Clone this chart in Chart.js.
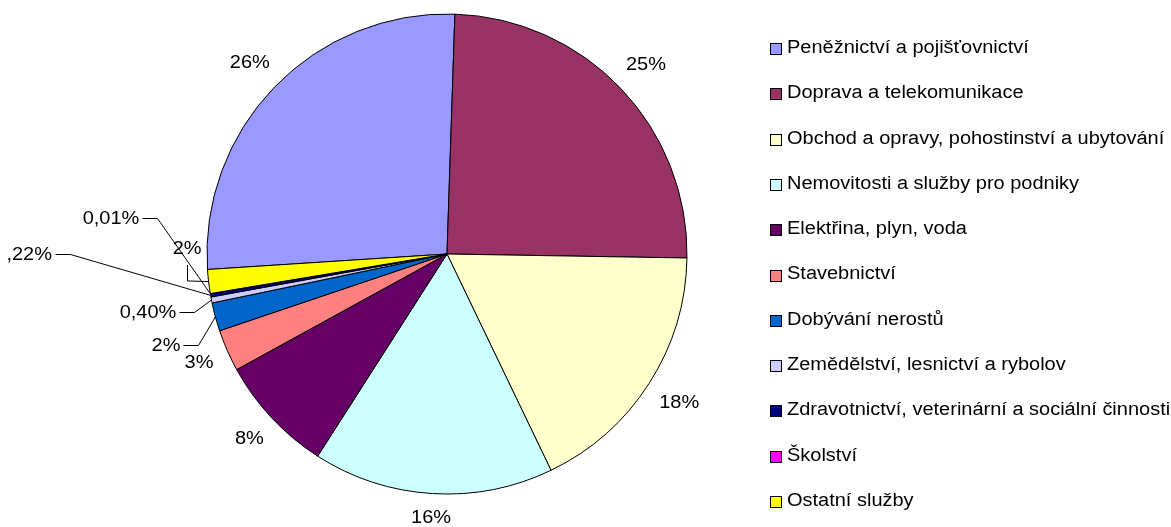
<!DOCTYPE html>
<html>
<head>
<meta charset="utf-8">
<script src="https://cdn.jsdelivr.net/npm/chart.js@4.4.1/dist/chart.umd.min.js"></script>
<style>
  html, body { margin: 0; padding: 0; background: #fff; }
  #wrap { width: 1171px; height: 527px; position: relative; }
</style>
</head>
<body>
<div id="wrap"><canvas id="pieChart" width="1171" height="527"></canvas></div>
<script>
// Chart data
const sectors = [
    'Peněžnictví a pojišťovnictví',
    'Doprava a telekomunikace',
    'Obchod a opravy, pohostinství a ubytování',
    'Nemovitosti a služby pro podniky',
    'Elektřina, plyn, voda',
    'Stavebnictví',
    'Dobývání nerostů',
    'Zemědělství, lesnictví a rybolov',
    'Zdravotnictví, veterinární a sociální činnosti',
    'Školství',
    'Ostatní služby'
];
const shares = [26.4, 24.6, 17.5, 16.1, 7.9, 2.8, 1.9, 0.40, 0.22, 0.01, 1.6];
const shareLabels = ['26%', '25%', '18%', '16%', '8%', '3%', '2%', '0,40%', '0,22%', '0,01%', '2%'];
const sliceColors = ['#9999FF', '#993366', '#FFFFCC', '#CCFFFF', '#660066', '#FF8080',
    '#0066CC', '#CCCCFF', '#000080', '#FF00FF', '#FFFF00'];

// labels moved away from the small slices, offsets in units of the radius
const leaderLabels = {
    6: { dx: -1.171, dy: 0.383, style: 'side' },
    7: { dx: -1.246, dy: 0.246, style: 'side' },
    8: { dx: -1.764, dy: 0.004, style: 'side' },
    9: { dx: -1.40, dy: -0.146, style: 'side' },
    10: { dx: -1.083, dy: -0.021, style: 'below' }
};

const FONT = '18px "Liberation Sans", Arial, sans-serif';
const STRETCH = 1.11; // the original text is drawn a bit wider than Arial

function wideText(ctx, text, x, y) {
    ctx.save();
    ctx.translate(x, y);
    ctx.scale(STRETCH, 1);
    ctx.fillText(text, 0, 0);
    ctx.restore();
}

const percentLabels = {
    id: 'percentLabels',
    afterDatasetsDraw(chart) {
        const ctx = chart.ctx;
        const meta = chart.getDatasetMeta(0);
        ctx.save();
        ctx.beginPath();
        ctx.rect(8, 0, chart.width - 8, chart.height);
        ctx.clip();
        ctx.font = FONT;
        ctx.fillStyle = '#000';
        ctx.strokeStyle = '#000';
        ctx.lineWidth = 1;
        ctx.textAlign = 'center';
        ctx.textBaseline = 'middle';
        meta.data.forEach((arc, i) => {
            const p = arc.getProps(['x', 'y', 'startAngle', 'endAngle', 'outerRadius'], true);
            const mid = (p.startAngle + p.endAngle) / 2;
            const cs = Math.cos(mid), sn = Math.sin(mid);
            const text = shareLabels[i];
            const w = ctx.measureText(text).width * STRETCH;
            const h = 18;
            const edgeX = p.x + cs * p.outerRadius;
            const edgeY = p.y + sn * p.outerRadius;
            const lead = leaderLabels[i];
            if (!lead) {
                const d = p.outerRadius + 14 + Math.abs(cs) * w / 2 + Math.abs(sn) * h / 2;
                wideText(ctx, text, p.x + cs * d, p.y + sn * d);
                return;
            }
            const tx = p.x + lead.dx * p.outerRadius;
            const ty = p.y + lead.dy * p.outerRadius;
            wideText(ctx, text, tx, ty);
            ctx.beginPath();
            if (lead.style === 'side') {
                const sx = Math.round(tx + w / 2 + 3) + 0.5;
                const ly = Math.round(ty) - 0.5;
                ctx.moveTo(sx, ly);
                ctx.lineTo(sx + 15, ly);
                ctx.lineTo(edgeX, edgeY);
            } else {
                const lx = Math.round(tx) + 0.5;
                ctx.moveTo(lx, ty + 16);
                ctx.lineTo(lx, ty + 32);
                ctx.lineTo(edgeX, edgeY);
            }
            ctx.stroke();
        });
        ctx.restore();
    }
};

const sideLegend = {
    id: 'sideLegend',
    afterDraw(chart) {
        const ctx = chart.ctx;
        ctx.save();
        ctx.font = FONT;
        ctx.textAlign = 'left';
        ctx.textBaseline = 'middle';
        sectors.forEach((name, i) => {
            const y = 48 + i * 45.3;
            ctx.fillStyle = sliceColors[i];
            ctx.fillRect(770, Math.round(y - 5), 11, 11);
            ctx.strokeStyle = '#000';
            ctx.lineWidth = 1;
            ctx.strokeRect(770.5, Math.round(y - 5) + 0.5, 11, 11);
            ctx.fillStyle = '#000';
            wideText(ctx, name, 787, y);
        });
        ctx.restore();
    }
};

new Chart(document.getElementById('pieChart'), {
    type: 'pie',
    data: {
        labels: sectors,
        datasets: [{
            data: shares,
            backgroundColor: sliceColors,
            borderColor: '#000',
            borderWidth: 1
        }]
    },
    options: {
        responsive: false,
        animation: false,
        rotation: 266.3,
        radius: 240,
        layout: { padding: { left: 0, right: 277, top: 13, bottom: 32 } },
        plugins: {
            legend: { display: false },
            tooltip: { enabled: false }
        }
    },
    plugins: [percentLabels, sideLegend]
});
</script>
</body>
</html>
